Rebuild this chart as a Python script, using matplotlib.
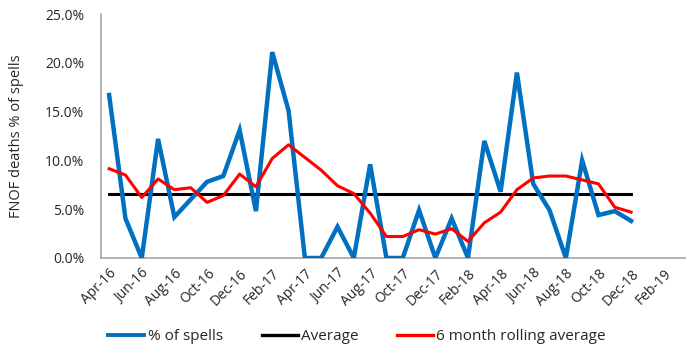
import matplotlib
matplotlib.use("Agg")
import matplotlib.pyplot as plt
from matplotlib.ticker import PercentFormatter
from matplotlib.lines import Line2D

months = ["Apr-16", "May-16", "Jun-16", "Jul-16", "Aug-16", "Sep-16", "Oct-16", "Nov-16",
          "Dec-16", "Jan-17", "Feb-17", "Mar-17", "Apr-17", "May-17", "Jun-17", "Jul-17",
          "Aug-17", "Sep-17", "Oct-17", "Nov-17", "Dec-17", "Jan-18", "Feb-18", "Mar-18",
          "Apr-18", "May-18", "Jun-18", "Jul-18", "Aug-18", "Sep-18", "Oct-18", "Nov-18",
          "Dec-18", "Jan-19", "Feb-19", "Mar-19"]

pct_spells = [16.7, 4.05, 0.0, 12.2, 4.2, 6.0, 7.8, 8.4, 13.1, 4.8, 21.1, 15.1,
              0.0, 0.0, 3.2, 0.0, 9.6, 0.0, 0.0, 4.9, 0.0, 4.05, 0.0, 12.0,
              6.8, 19.0, 7.6, 4.9, 0.0, 10.0, 4.4, 4.8, 3.8]

rolling_avg = [9.15, 8.5, 6.2, 8.1, 7.0, 7.2, 5.7, 6.4, 8.6, 7.3, 10.2, 11.6,
               10.3, 9.0, 7.4, 6.6, 4.6, 2.2, 2.2, 2.9, 2.45, 3.0, 1.7, 3.6,
               4.7, 7.0, 8.2, 8.4, 8.4, 8.0, 7.6, 5.2, 4.7]

average = 6.6

plt.rcParams["font.family"] = ["Open Sans", "DejaVu Sans"]

fig = plt.figure(figsize=(6.86, 3.51), dpi=100)
ax = fig.add_axes([0.1472, 0.265, 0.856, 0.695])

x = list(range(len(pct_spells)))
ax.plot(x, pct_spells, color="#0070C0", lw=3.2, solid_joinstyle="miter", zorder=3)
ax.plot(x, [average] * len(x), color="black", lw=2.2, zorder=2)
ax.plot(x, rolling_avg, color="#FF0000", lw=2.2, zorder=4)

ax.set_xlim(-0.5, len(months) - 0.5)
ax.set_ylim(0, 25)
ax.set_yticks([0, 5, 10, 15, 20, 25])
ax.yaxis.set_major_formatter(PercentFormatter(decimals=1))
ax.set_xticks(range(0, len(months), 2))
ax.set_xticklabels(months[::2], rotation=45, ha="right", va="top",
                   rotation_mode="anchor")

ax.tick_params(axis="both", length=0, labelsize=10, colors="#262626")
ax.tick_params(axis="x", pad=6)
ax.tick_params(axis="y", pad=12)

for side in ("top", "right"):
    ax.spines[side].set_visible(False)
for side in ("left", "bottom"):
    ax.spines[side].set_color("#A6A6A6")
    ax.spines[side].set_linewidth(1.2)

ax.set_ylabel("FNOF deaths % of spells", fontsize=10.5, color="#262626", labelpad=15)

handles = [Line2D([], [], color="#0070C0", lw=2.8),
           Line2D([], [], color="black", lw=2.4),
           Line2D([], [], color="#FF0000", lw=2.4)]
fig.legend(handles, ["% of spells", "Average", "6 month rolling average"],
           loc="center left", bbox_to_anchor=(0.138, 0.04), ncol=3, frameon=False,
           fontsize=11, handlelength=2.36, handletextpad=0.2, columnspacing=2.55,
           labelcolor="#262626", borderpad=0.4)

fig.savefig("out.png", dpi=100)
